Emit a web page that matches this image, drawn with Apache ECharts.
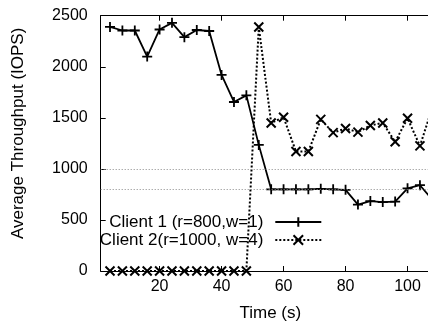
<!DOCTYPE html>
<html>
<head>
<meta charset="utf-8">
<script src="https://cdn.jsdelivr.net/npm/echarts@6/dist/echarts.min.js"></script>
<style>
html,body{margin:0;padding:0;background:#fff;}
#chart{width:428px;height:327px;}
</style>
</head>
<body>
<div id="chart"></div>
<script>
// ---- data ----
const timeSec = [4, 8, 12, 16, 20, 24, 28, 32, 36, 40, 44, 48, 52, 56, 60, 64, 68, 72, 76, 80, 84, 88, 92, 96, 100, 104, 108];
const client1 = [2390, 2355, 2355, 2100, 2365, 2430, 2290, 2360, 2350, 1920, 1655, 1720, 1235, 800, 800, 800, 800, 805, 800, 795, 650, 685, 675, 680, 810, 840, 700];
const client2 = [0, 0, 0, 0, 0, 0, 0, 0, 0, 0, 0, 0, 2390, 1450, 1505, 1170, 1170, 1485, 1355, 1395, 1360, 1425, 1450, 1265, 1495, 1225, 1600];
const seriesNames = ['Client 1 (r=800,w=1)', 'Client 2(r=1000, w=4)'];
const referenceLevels = [1000, 800];
const xTickValues = [20, 40, 60, 80, 100];

const FONT = 'Liberation Sans, Arial, sans-serif';
const pair = (xs, ys) => xs.map((x, i) => [x, ys[i]]);

const chart = echarts.init(document.getElementById('chart'), null, {renderer: 'canvas'});
const axisCommon = {
  type: 'value', min: 1, max: 106.6,
  axisLine: {show: true, lineStyle: {color: '#000', width: 1}},
  splitLine: {show: false}
};
chart.setOption({
  animation: false,
  backgroundColor: '#fff',
  textStyle: {fontFamily: FONT},
  grid: {left: 100.7, top: 15.7, bottom: 51.3, right: 0, containLabel: false},
  legend: [
    {data: [seriesNames[0]], orient: 'vertical', align: 'right', right: 105.7, top: 213.5, padding: 0,
     itemWidth: 46, itemHeight: 12,
     textStyle: {fontFamily: FONT, fontSize: 17, color: '#000', padding: [0, 7, 0, 0], lineHeight: 17}},
    {data: [seriesNames[1]], orient: 'vertical', align: 'right', right: 105.7, top: 231.5, padding: 0,
     itemWidth: 46, itemHeight: 12,
     textStyle: {fontFamily: FONT, fontSize: 17, color: '#000', padding: [0, 7, 0, 0], lineHeight: 17}}
  ],
  xAxis: [
    Object.assign({}, axisCommon, {
      position: 'bottom',
      name: 'Time (s)', nameLocation: 'middle', nameGap: 34,
      nameTextStyle: {fontFamily: FONT, fontSize: 17, color: '#000', padding: [0, 0, 0, 12]},
      axisTick: {show: true, inside: true, length: 5, customValues: xTickValues, lineStyle: {color: '#000'}},
      axisLabel: {show: true, customValues: xTickValues, margin: 8, fontFamily: FONT, fontSize: 16, color: '#000'}
    }),
    Object.assign({}, axisCommon, {
      position: 'top',
      axisTick: {show: true, inside: true, length: 5, customValues: xTickValues, lineStyle: {color: '#000'}},
      axisLabel: {show: false}
    })
  ],
  yAxis: {
    type: 'value', min: 0, max: 2500, interval: 500,
    name: 'Average Throughput (IOPS)', nameLocation: 'middle', nameGap: 74, nameRotate: 90,
    nameTextStyle: {fontFamily: FONT, fontSize: 17, color: '#000', padding: [0, 0, 0, 20]},
    axisLine: {show: true, lineStyle: {color: '#000', width: 1}},
    axisTick: {show: true, inside: true, length: 5, lineStyle: {color: '#000'}},
    axisLabel: {margin: 13, fontFamily: FONT, fontSize: 16, color: '#000', formatter: v => String(v)},
    splitLine: {show: false}
  },
  series: [
    {
      name: seriesNames[0], type: 'line', data: pair(timeSec, client1),
      symbol: 'path://M0,5L10,5M5,0L5,10', symbolSize: 10, showAllSymbol: true,
      lineStyle: {color: '#000', width: 1.8, type: 'solid'},
      itemStyle: {color: '#000', borderColor: '#000', borderWidth: 1.8},
      markLine: {
        silent: true, symbol: 'none', label: {show: false},
        lineStyle: {color: '#888', width: 1, type: [1, 2]},
        data: referenceLevels.map(v => ({yAxis: v}))
      },
      z: 3
    },
    {
      name: seriesNames[1], type: 'line', data: pair(timeSec, client2),
      symbol: 'path://M0,0L10,10M0,10L10,0', symbolSize: 9, showAllSymbol: true,
      lineStyle: {color: '#000', width: 2, type: [2, 2]},
      itemStyle: {color: '#000', borderColor: '#000', borderWidth: 2},
      z: 4
    }
  ]
});
</script>
</body>
</html>
